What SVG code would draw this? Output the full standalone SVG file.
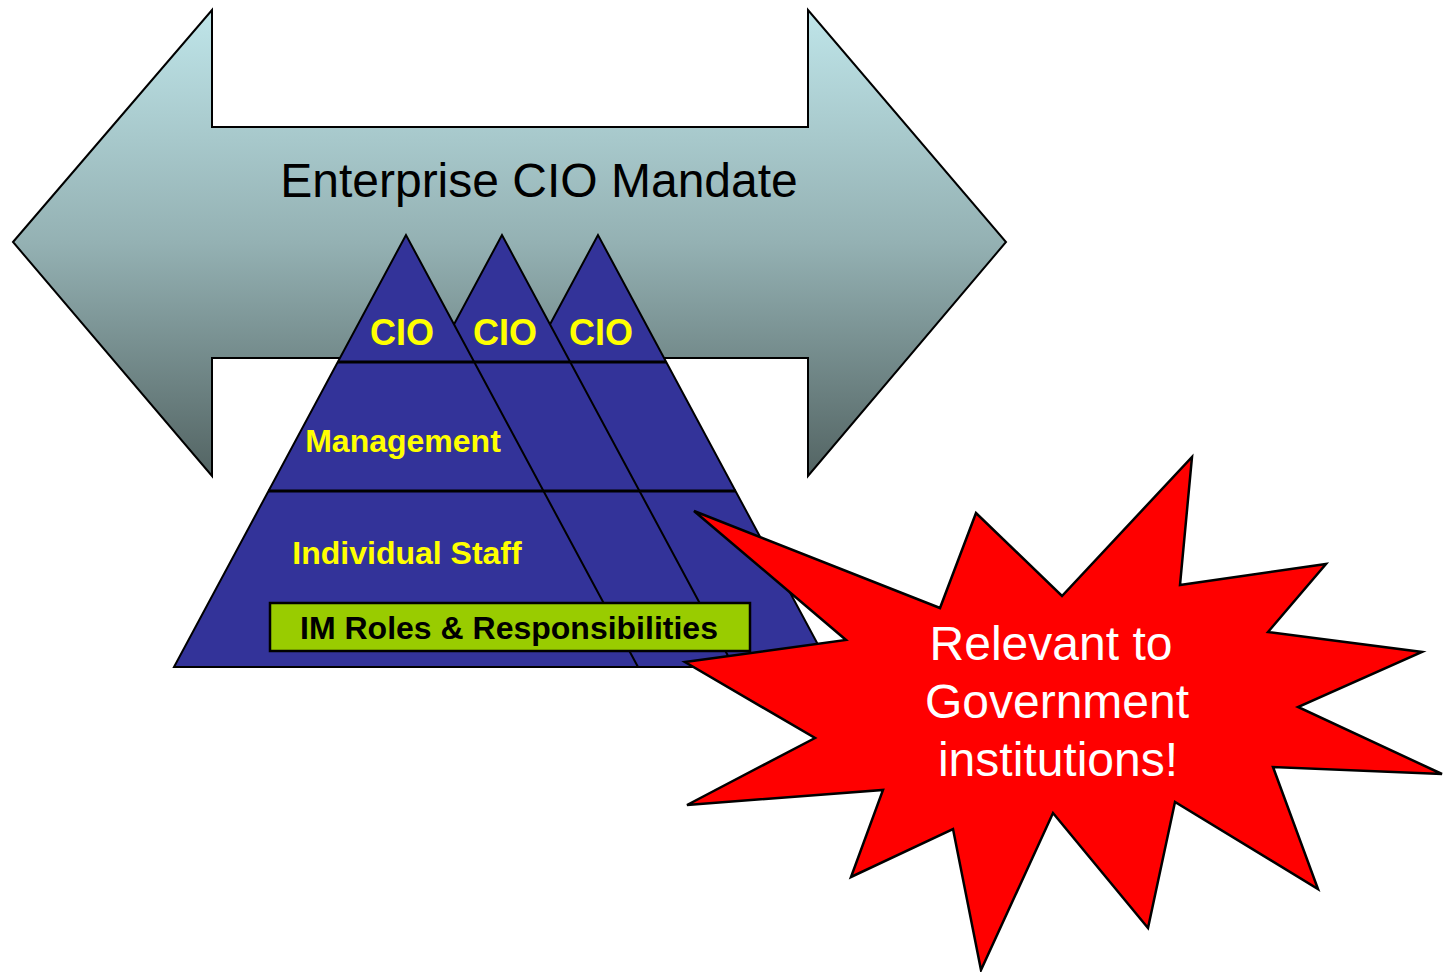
<svg xmlns="http://www.w3.org/2000/svg" width="1448" height="972" viewBox="0 0 1448 972">
<defs>
<linearGradient id="arrowGrad" x1="0" y1="10" x2="0" y2="476" gradientUnits="userSpaceOnUse">
<stop offset="0" stop-color="#bfe5e9"/>
<stop offset="0.5" stop-color="#94b1b3"/>
<stop offset="1" stop-color="#536463"/>
</linearGradient>
<style>
.pyr{fill:#333399;stroke:#000;stroke-width:2;stroke-linejoin:miter}
.hl{stroke:#000;stroke-width:3;fill:none}
.yl{font-family:"Liberation Sans",Arial,sans-serif;font-weight:bold;fill:#ffff00}
.lbl{font-family:"Liberation Sans",Arial,sans-serif}
</style>
</defs>
<rect width="1448" height="972" fill="#fff"/>
<g id="mandate-arrow">
<polygon points="13,242 212,10 212,127 808,127 808,10 1006,242 808,476 808,358 212,358 212,476" fill="url(#arrowGrad)" stroke="#000" stroke-width="2"/>
<text class="lbl" x="539" y="197" font-size="48" text-anchor="middle" fill="#000">Enterprise CIO Mandate</text>
</g>
<g id="pyramids">
<g id="pyramid-3"><polygon class="pyr" points="598,235 366,667 830,667"/></g>
<g id="pyramid-2"><polygon class="pyr" points="502,235 270,667 734,667"/></g>
<g id="pyramid-1"><polygon class="pyr" points="406,235 174,667 638,667"/></g>
<line class="hl" x1="338" y1="362" x2="666" y2="362"/>
<line class="hl" x1="268" y1="491" x2="736" y2="491"/>
<text class="yl" x="402" y="345" font-size="36" text-anchor="middle">CIO</text>
<text class="yl" x="505" y="345" font-size="36" text-anchor="middle">CIO</text>
<text class="yl" x="601" y="345" font-size="36" text-anchor="middle">CIO</text>
<text class="yl" x="403" y="452" font-size="32" text-anchor="middle">Management</text>
<text class="yl" x="407" y="564" font-size="32" text-anchor="middle">Individual Staff</text>
</g>
<g id="im-roles">
<rect x="270" y="603" width="480" height="48" fill="#99cc00" stroke="#000" stroke-width="2.5"/>
<text class="lbl" x="509" y="639" font-size="32" font-weight="bold" text-anchor="middle" fill="#000">IM Roles &amp; Responsibilities</text>
</g>
<g id="relevant-star">
<polygon points="694,511 940,608 976,513 1062,596 1192,457 1180,585 1326,564 1268,632 1422,652 1298,707 1442,774 1273,767 1318,889 1175,802 1148,928 1053,813 981,970 953,829 851,877 883,790 687,805 815,738 685,662 846,640" fill="#ff0000" stroke="#000" stroke-width="2.5" stroke-linejoin="miter"/>
<text class="lbl" x="1051" y="660" font-size="48" text-anchor="middle" fill="#fff">Relevant to</text>
<text class="lbl" x="1057" y="718" font-size="48" text-anchor="middle" fill="#fff">Government</text>
<text class="lbl" x="1058" y="776" font-size="48" text-anchor="middle" fill="#fff">institutions!</text>
</g>
</svg>
